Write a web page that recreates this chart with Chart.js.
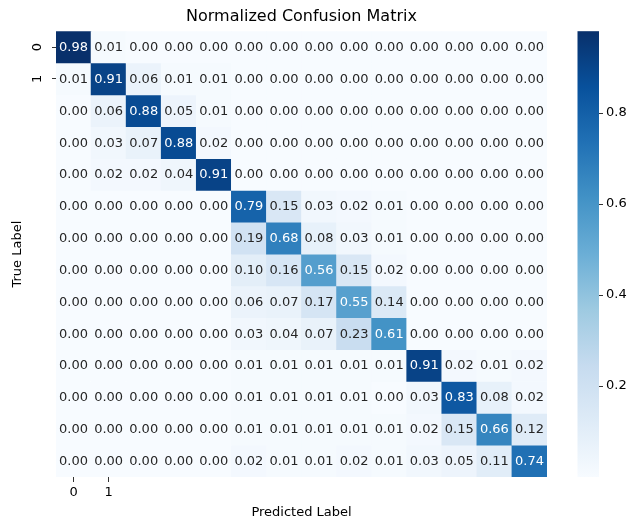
<!DOCTYPE html>
<html>
<head>
<meta charset="utf-8">
<script src="https://cdn.jsdelivr.net/npm/chart.js@4.4.1/dist/chart.umd.min.js"></script>
<style>
html,body{margin:0;padding:0;background:#ffffff;}
#wrap{width:629px;height:520px;position:relative;}
</style>
</head>
<body>
<div id="wrap"><canvas id="c" width="629" height="520"></canvas></div>
<script>
// ---------------- DATA ----------------
const classes = [0,1,2,3,4,5,6,7,8,9,10,11,12,13];
const xTickValues = [0, 1];
const xTickLabels = ['0', '1'];
const yTickValues = [0, 1];
const yTickLabels = ['0', '1'];
const colorbarTicks = [0.2, 0.4, 0.6, 0.8];

const row0  = [0.98,0.01,0.00,0.00,0.00,0.00,0.00,0.00,0.00,0.00,0.00,0.00,0.00,0.00];
const row1  = [0.01,0.91,0.06,0.01,0.01,0.00,0.00,0.00,0.00,0.00,0.00,0.00,0.00,0.00];
const row2  = [0.00,0.06,0.88,0.05,0.01,0.00,0.00,0.00,0.00,0.00,0.00,0.00,0.00,0.00];
const row3  = [0.00,0.03,0.07,0.88,0.02,0.00,0.00,0.00,0.00,0.00,0.00,0.00,0.00,0.00];
const row4  = [0.00,0.02,0.02,0.04,0.91,0.00,0.00,0.00,0.00,0.00,0.00,0.00,0.00,0.00];
const row5  = [0.00,0.00,0.00,0.00,0.00,0.79,0.15,0.03,0.02,0.01,0.00,0.00,0.00,0.00];
const row6  = [0.00,0.00,0.00,0.00,0.00,0.19,0.68,0.08,0.03,0.01,0.00,0.00,0.00,0.00];
const row7  = [0.00,0.00,0.00,0.00,0.00,0.10,0.16,0.56,0.15,0.02,0.00,0.00,0.00,0.00];
const row8  = [0.00,0.00,0.00,0.00,0.00,0.06,0.07,0.17,0.55,0.14,0.00,0.00,0.00,0.00];
const row9  = [0.00,0.00,0.00,0.00,0.00,0.03,0.04,0.07,0.23,0.61,0.00,0.00,0.00,0.00];
const row10 = [0.00,0.00,0.00,0.00,0.00,0.01,0.01,0.01,0.01,0.01,0.91,0.02,0.01,0.02];
const row11 = [0.00,0.00,0.00,0.00,0.00,0.01,0.01,0.01,0.01,0.00,0.03,0.83,0.08,0.02];
const row12 = [0.00,0.00,0.00,0.00,0.00,0.01,0.01,0.01,0.01,0.01,0.02,0.15,0.66,0.12];
const row13 = [0.00,0.00,0.00,0.00,0.00,0.02,0.01,0.01,0.02,0.01,0.03,0.05,0.11,0.74];
const matrix = [row0,row1,row2,row3,row4,row5,row6,row7,row8,row9,row10,row11,row12,row13];

// ---------------- COLOUR MAP (matplotlib Blues) ----------------
const BLUES = [
  [0.9686,0.9843,1.0000],[0.8706,0.9216,0.9686],[0.7765,0.8588,0.9373],
  [0.6196,0.7922,0.8824],[0.4196,0.6824,0.8392],[0.2588,0.5725,0.7765],
  [0.1294,0.4431,0.7098],[0.0314,0.3176,0.6118],[0.0314,0.1882,0.4196]
];
const vmin = 0;
const vmax = Math.max(...matrix.flat());
function bluesRGB(v){
  let t = (v - vmin) / (vmax - vmin);
  t = Math.max(0, Math.min(1, t));
  const p = t * (BLUES.length - 1);
  const i = Math.min(Math.floor(p), BLUES.length - 2);
  const f = p - i;
  return BLUES[i].map((a, k) => a + (BLUES[i+1][k] - a) * f);
}
function toCss(rgb){ return 'rgb(' + rgb.map(c => Math.round(c*255)).join(',') + ')'; }
function lum(rgb){
  const l = rgb.map(c => c <= 0.03928 ? c/12.92 : Math.pow((c+0.055)/1.055, 2.4));
  return 0.2126*l[0] + 0.7152*l[1] + 0.0722*l[2];
}
function textColor(v){ return lum(bluesRGB(v)) > 0.408 ? '#262626' : '#ffffff'; }

// ---------------- DATASETS ----------------
const datasets = matrix.map((row, r) => ({
  label: 'row ' + r,
  data: classes.map(c => ({ x: c, y: [r - 0.5, r + 0.5] })),
  backgroundColor: row.map(v => toCss(bluesRGB(v))),
  borderWidth: 0,
  barPercentage: 1,
  categoryPercentage: 1,
  grouped: false
}));

// ---------------- PLUGIN: cell text + colorbar ----------------
const heatPlugin = {
  id: 'heatText',
  afterDatasetsDraw(chart){
    const {ctx} = chart;
    const xs = chart.scales.x, ys = chart.scales.y;
    ctx.save();
    ctx.font = "13px 'DejaVu Sans'";
    ctx.textAlign = 'center';
    ctx.textBaseline = 'middle';
    matrix.forEach((row, r) => row.forEach((v, c) => {
      ctx.fillStyle = textColor(v);
      ctx.fillText(v.toFixed(2), xs.getPixelForValue(c), ys.getPixelForValue(r) + 0.5);
    }));
    ctx.restore();
  },
  afterDraw(chart){
    const {ctx} = chart;
    const cb = chart.scales.yCb;
    const top = cb.getPixelForValue(vmax);
    const bottom = cb.getPixelForValue(vmin);
    const x1 = cb.left;
    const x0 = x1 - 21.5;
    const g = ctx.createLinearGradient(0, bottom, 0, top);
    BLUES.forEach((c, i) => g.addColorStop(i / (BLUES.length - 1), toCss(c)));
    ctx.save();
    ctx.fillStyle = g;
    ctx.fillRect(x0, top, x1 - x0, bottom - top);
    ctx.restore();
  }
};

Chart.defaults.font.family = "'DejaVu Sans', sans-serif";
Chart.defaults.font.size = 13;
Chart.defaults.color = '#000000';

new Chart(document.getElementById('c'), {
  type: 'bar',
  data: { datasets },
  plugins: [heatPlugin],
  options: {
    responsive: false,
    animation: false,
    layout: { padding: 0 },
    plugins: {
      legend: { display: false },
      tooltip: { enabled: false },
      title: {
        display: true,
        text: 'Normalized Confusion Matrix',
        fullSize: false,
        color: '#000000',
        font: { size: 16, weight: 'normal', lineHeight: 1.2 },
        padding: { top: 7, bottom: 5 }
      }
    },
    scales: {
      x: {
        type: 'linear',
        position: 'bottom',
        min: -0.5, max: 13.5,
        offset: false,
        afterBuildTicks: s => { s.ticks = xTickValues.map(v => ({ value: v })); },
        afterFit: s => { s.height = 43; },
        ticks: {
          autoSkip: false, maxRotation: 0, minRotation: 0, padding: 3, color: '#000000',
          callback: v => xTickLabels[xTickValues.indexOf(v)]
        },
        grid: { drawOnChartArea: false, drawTicks: true, tickLength: 5, tickColor: '#333333', offset: false },
        border: { display: false },
        title: { display: true, text: 'Predicted Label', color: '#000000', font: { size: 13, lineHeight: 1.2 }, padding: { top: 4, bottom: 0 } }
      },
      y: {
        type: 'linear',
        position: 'left',
        min: -0.5, max: 13.5,
        reverse: true,
        afterBuildTicks: s => { s.ticks = yTickValues.map(v => ({ value: v })); },
        afterFit: s => { s.width = 56; },
        ticks: {
          autoSkip: false, minRotation: 90, maxRotation: 90, padding: 10, crossAlign: 'center', color: '#000000',
          callback: v => yTickLabels[yTickValues.indexOf(v)]
        },
        grid: { drawOnChartArea: false, drawTicks: true, tickLength: 4, tickColor: '#333333' },
        border: { display: false },
        title: { display: true, text: 'True Label', color: '#000000', font: { size: 13, lineHeight: 1.2 }, padding: { top: 10, bottom: 0 } }
      },
      yGap: {
        axis: 'y',
        type: 'linear',
        position: 'right',
        weight: 0,
        display: true,
        afterFit: s => { s.width = 52; },
        ticks: { display: false },
        grid: { display: false, drawTicks: false },
        border: { display: false }
      },
      yCb: {
        axis: 'y',
        type: 'linear',
        position: 'right',
        weight: 1,
        min: vmin, max: vmax,
        afterBuildTicks: s => { s.ticks = colorbarTicks.map(v => ({ value: v })); },
        afterFit: s => { s.width = 30; },
        ticks: { autoSkip: false, padding: 3, color: '#000000', callback: v => v.toFixed(1) },
        grid: { drawOnChartArea: false, drawTicks: true, tickLength: 4, tickColor: '#333333' },
        border: { display: false }
      }
    }
  }
});
</script>
</body>
</html>
